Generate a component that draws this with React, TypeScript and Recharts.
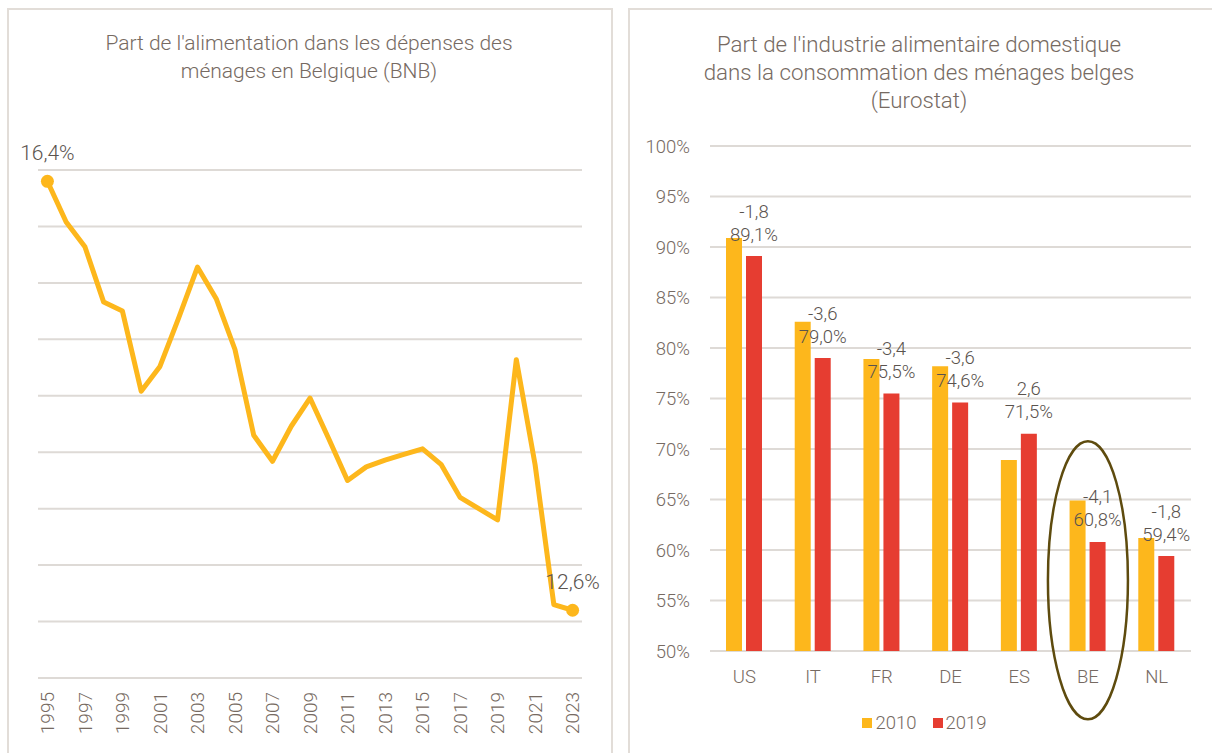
import React from 'react';
import {
  LineChart, Line, XAxis, YAxis, CartesianGrid, BarChart, Bar, LabelList, Legend, ReferenceDot,
} from 'recharts';

const years = [1995, 1996, 1997, 1998, 1999, 2000, 2001, 2002, 2003, 2004, 2005, 2006, 2007, 2008, 2009, 2010, 2011, 2012, 2013, 2014, 2015, 2016, 2017, 2018, 2019, 2020, 2021, 2022, 2023];
const foodShare = [16.4, 16.04, 15.82, 15.33, 15.25, 14.54, 14.76, 15.19, 15.64, 15.36, 14.91, 14.15, 13.92, 14.23, 14.48, 14.12, 13.75, 13.87, 13.93, 13.98, 14.03, 13.89, 13.6, 13.5, 13.4, 14.82, 13.89, 12.65, 12.6];
const leftTicks = [12, 12.5, 13, 13.5, 14, 14.5, 15, 15.5, 16, 16.5];

const countries = ['US', 'IT', 'FR', 'DE', 'ES', 'BE', 'NL'];
const share2010 = [90.9, 82.6, 78.9, 78.2, 68.9, 64.9, 61.2];
const share2019 = [89.1, 79.0, 75.5, 74.6, 71.5, 60.8, 59.4];
const deltas = ['-1,8', '-3,6', '-3,4', '-3,6', '2,6', '-4,1', '-1,8'];
const rightTicks = [50, 55, 60, 65, 70, 75, 80, 85, 90, 95, 100];
const highlighted = 'BE';

const lineData = years.map((y, i) => ({ year: y, v: foodShare[i] }));
const barData = countries.map((c, i) => ({ c, a: share2010[i], b: share2019[i], d: deltas[i] }));

const TXT = '#766a62';
const LBL = '#5a534e';
const YEL = '#FDB71C';
const RED = '#E63D31';
const GRID = '#dedad6';
const FONT = 'Roboto, "Noto Sans", sans-serif';
const W = 300;

const fmt = (v: number) => v.toFixed(1).replace('.', ',') + '%';

const YearTick = (props: any) => {
  const { x, y, payload } = props;
  const ty = y + 14;
  return (
    <text x={x} y={ty} transform={`rotate(-90, ${x}, ${ty})`} textAnchor="end" dy="0.36em" fill={TXT} fontSize={19} fontWeight={W} fontFamily={FONT}>
      {payload.value}
    </text>
  );
};

const EndDot = (props: any) => {
  const { cx, cy, index } = props;
  if (index !== 0 && index !== lineData.length - 1) return <g key={index} />;
  return <circle key={index} cx={cx} cy={cy} r={6.5} fill={YEL} />;
};

const EndLabel = (props: any) => {
  const { x, y, index } = props;
  if (index !== 0 && index !== lineData.length - 1) return null;
  return (
    <text x={x} y={y - 29} textAnchor="middle" dy="0.35em" fill={LBL} fontSize={21} fontWeight={W} fontFamily={FONT}>
      {fmt(lineData[index].v)}
    </text>
  );
};

const BarLabel = (props: any) => {
  const { x, y, width, index } = props;
  const cx = x + width / 2;
  return (
    <g>
      <text x={cx} y={y - 45} textAnchor="middle" dy="0.35em" fill={LBL} fontSize={18.5} fontWeight={W} fontFamily={FONT}>{barData[index].d}</text>
      <text x={cx} y={y - 22} textAnchor="middle" dy="0.35em" fill={LBL} fontSize={18.5} fontWeight={W} fontFamily={FONT}>{fmt(barData[index].b)}</text>
    </g>
  );
};

const Ellipse = (props: any) => {
  const { cx, cy } = props;
  return <ellipse cx={cx} cy={cy} rx={40} ry={139} fill="none" stroke="#5e4b0e" strokeWidth={2.5} />;
};

const LegendContent = (props: any) => {
  const { payload } = props;
  return (
    <div style={{ display: 'flex', justifyContent: 'center', alignItems: 'center', fontFamily: FONT, fontWeight: W, fontSize: 18.5, color: TXT, height: 30, paddingLeft: 8 }}>
      {(payload || []).map((p: any, i: number) => (
        <div key={i} style={{ display: 'flex', alignItems: 'center', marginLeft: i ? 16 : 0 }}>
          <span style={{ display: 'inline-block', width: 10, height: 10, background: p.color, marginRight: 3 }} />
          <span>{p.value}</span>
        </div>
      ))}
    </div>
  );
};

export default function App() {
  return (
    <div style={{ position: 'fixed', left: 0, top: 0, width: 1212, height: 753, background: '#fff', overflow: 'hidden', fontFamily: FONT, fontWeight: W }}>
      <div style={{ position: 'absolute', left: 7, top: 8, width: 602, height: 760, border: '2px solid #e2ddd8' }} />
      <div style={{ position: 'absolute', left: 628, top: 8, width: 600, height: 760, border: '2px solid #e2ddd8' }} />

      <div style={{ position: 'absolute', left: 7, top: 29, width: 604, textAlign: 'center', color: TXT, fontSize: 21, lineHeight: '28px' }}>
        Part de l'alimentation dans les dépenses des<br />ménages en Belgique (BNB)
      </div>
      <div style={{ position: 'absolute', left: 628, top: 30, width: 582, textAlign: 'center', color: TXT, fontSize: 22.3, lineHeight: '28px' }}>
        Part de l'industrie alimentaire domestique<br />dans la consommation des ménages belges<br />(Eurostat)
      </div>

      <div style={{ position: 'absolute', left: 0, top: 0 }}>
        <LineChart width={620} height={753} data={lineData} margin={{ top: 170, right: 38, bottom: 15, left: 38 }}>
          <CartesianGrid vertical={false} stroke={GRID} strokeWidth={2} />
          <YAxis hide domain={[12, 16.5]} ticks={leftTicks} />
          <XAxis dataKey="year" height={60} interval={1} axisLine={false} tickLine={false} tickSize={0} tickMargin={0} padding={{ left: 9.4, right: 9.4 }} tick={<YearTick />} />
          <Line dataKey="v" stroke={YEL} strokeWidth={5} dot={<EndDot />} activeDot={false} isAnimationActive={false} label={<EndLabel />} strokeLinejoin="round" />
        </LineChart>
      </div>

      <div style={{ position: 'absolute', left: 620, top: 0 }}>
        <BarChart width={592} height={753} data={barData} margin={{ top: 146, right: 21, bottom: 15, left: 30 }} barGap={4} barSize={16}>
          <CartesianGrid vertical={false} stroke={GRID} strokeWidth={2} />
          <YAxis width={60} domain={[50, 100]} ticks={rightTicks} tickFormatter={(v: number) => `${v}%`} axisLine={false} tickLine={false} tickSize={0} tickMargin={20} tick={{ fill: TXT, fontSize: 18.5, fontWeight: W, fontFamily: FONT }} />
          <XAxis dataKey="c" height={57} axisLine={false} tickLine={false} tickSize={0} tickMargin={19} tick={{ fill: TXT, fontSize: 18.5, fontWeight: W, fontFamily: FONT }} />
          <Bar dataKey="a" name="2010" fill={YEL} isAnimationActive={false} />
          <Bar dataKey="b" name="2019" fill={RED} isAnimationActive={false}>
            <LabelList dataKey="b" content={<BarLabel />} />
          </Bar>
          <ReferenceDot x={highlighted} y={57} ifOverflow="visible" shape={<Ellipse />} />
          <Legend verticalAlign="bottom" align="center" height={30} content={<LegendContent />} />
        </BarChart>
      </div>
    </div>
  );
}
